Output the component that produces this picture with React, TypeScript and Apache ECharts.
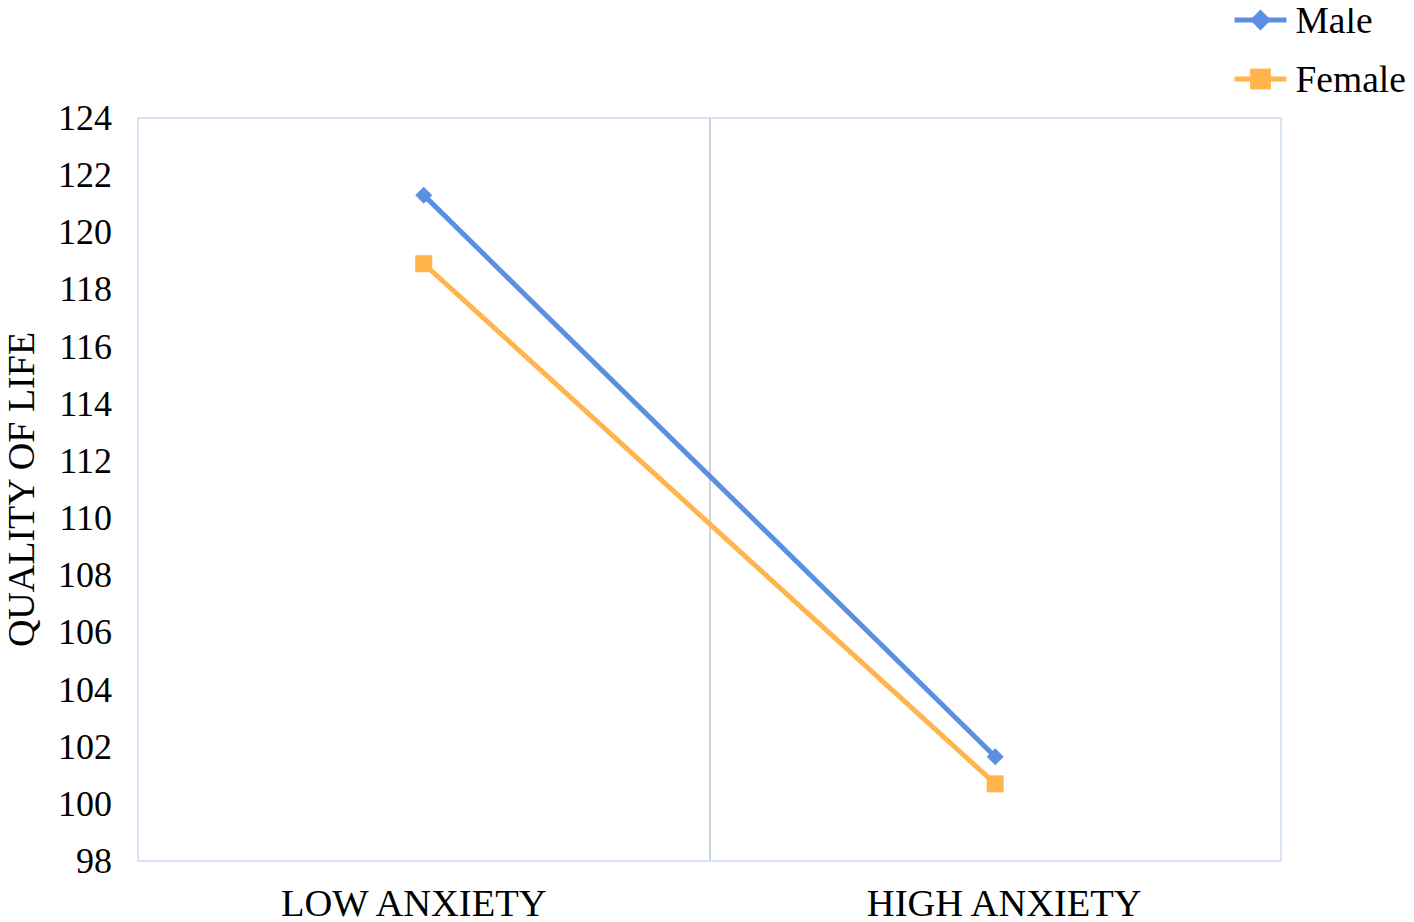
import React, { useEffect, useRef } from "react";
import * as echarts from "echarts";

const categories = ["LOW ANXIETY", "HIGH ANXIETY"];
const maleValues = [121.3, 101.65];
const femaleValues = [118.9, 100.7];
const yMin = 98;
const yMax = 124;
const yInterval = 2;

const FONT = "'Liberation Serif', 'Times New Roman', serif";

export default function App() {
  const ref = useRef<HTMLDivElement>(null);
  useEffect(() => {
    if (!ref.current) return;
    const chart = echarts.init(ref.current, undefined, { renderer: "svg" });
    chart.setOption({
      animation: false,
      backgroundColor: "#ffffff",
      textStyle: { fontFamily: FONT },
      legend: {
        orient: "vertical",
        left: 1232,
        top: 1,
        padding: 0,
        itemWidth: 52,
        itemHeight: 26,
        itemGap: 21,
        lineStyle: { width: 5 },
        textStyle: { fontFamily: FONT, fontSize: 37.5, color: "#000", padding: [0, 0, 0, 4] },
        data: ["Male", "Female"],
      },
      grid: {
        left: 138,
        right: 133,
        top: 118,
        bottom: 61,
        show: true,
        borderColor: "#D6E5F5",
        borderWidth: 2,
        outerBoundsMode: "none",
      },
      xAxis: {
        type: "category",
        data: categories,
        boundaryGap: true,
        axisLine: { show: true, lineStyle: { color: "#D6E5F5", width: 2 } },
        axisTick: { show: false },
        axisLabel: {
          fontFamily: FONT,
          fontSize: 38.5,
          color: "#000",
          margin: 22,
          formatter: (v: string, i: number) => (i === 0 ? `{a|${v}}` : `{b|${v}}`),
          rich: {
            a: { fontFamily: FONT, fontSize: 38.5, color: "#000", padding: [0, 20, 0, 0] },
            b: { fontFamily: FONT, fontSize: 38.5, color: "#000", padding: [0, 0, 0, 18] },
          },
        },
        splitLine: {
          show: true,
          lineStyle: { color: ["#D6E5F5", "#D0D3D6", "#D6E5F5"], width: 2 },
        },
      },
      yAxis: {
        type: "value",
        min: yMin,
        max: yMax,
        interval: yInterval,
        name: "QUALITY OF LIFE",
        nameLocation: "middle",
        nameGap: 98,
        nameTextStyle: { fontFamily: FONT, fontSize: 38, color: "#000" },
        axisLine: { show: false },
        axisTick: { show: false },
        splitLine: { show: false },
        axisLabel: { fontFamily: FONT, fontSize: 36, color: "#000", margin: 26 },
      },
      series: [
        {
          name: "Male",
          type: "line",
          data: maleValues,
          color: "#5B8FE3",
          symbol: "diamond",
          symbolSize: 17,
          lineStyle: { width: 5 },
        },
        {
          name: "Female",
          type: "line",
          data: femaleValues,
          color: "#FFB44C",
          symbol: "rect",
          symbolSize: 17,
          lineStyle: { width: 5 },
        },
      ],
    });
    return () => chart.dispose();
  }, []);
  return <div ref={ref} style={{ width: 1414, height: 922, marginLeft: -8, marginTop: -8 }} />;
}
